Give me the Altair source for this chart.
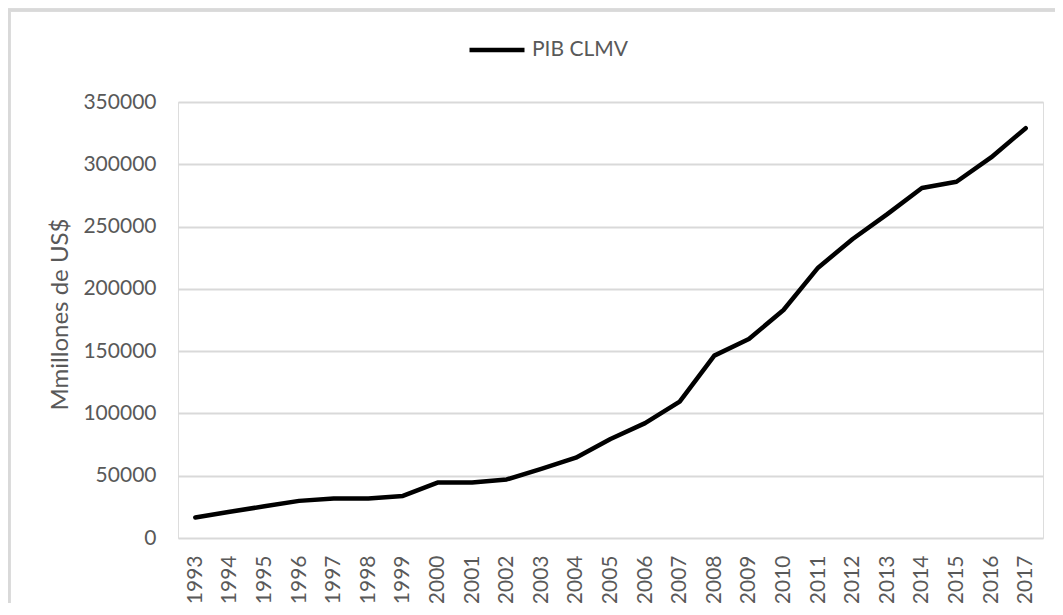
import altair as alt
import pandas as pd

years = [str(y) for y in range(1993, 2018)]
pib = [16500, 21000, 25500, 29800, 31800, 31800, 33800, 44500, 44500, 47000,
       55500, 64500, 79500, 92200, 109500, 146400, 159800, 183000, 217000,
       240000, 260000, 281000, 286000, 305500, 329000]
series = ["PIB CLMV"] * len(years)
y_ticks = [0, 50000, 100000, 150000, 200000, 250000, 300000, 350000]

df = pd.DataFrame({"year": years, "value": pib, "serie": series})

FONT = "Lato"
GREY = "#595959"
GRID = "#d9d9d9"

line = alt.Chart(df).mark_line(strokeWidth=4.5, strokeCap="round", strokeJoin="round").encode(
    x=alt.X("year:O", scale=alt.Scale(type="point", padding=0.5),
            axis=alt.Axis(title=None, labelAngle=-90, labelAlign="right", labelBaseline="middle",
                          labelPadding=17, ticks=False, domain=False, labelFont=FONT,
                          labelFontSize=21, labelColor=GREY)),
    y=alt.Y("value:Q", scale=alt.Scale(domain=[0, 350000], nice=False),
            axis=alt.Axis(title="Mmillones de US$", values=y_ticks, format="d", ticks=False,
                          domain=False, grid=True, gridColor=GRID, gridWidth=2,
                          labelFont=FONT, labelFontSize=21, labelColor=GREY, labelPadding=22,
                          titleFont=FONT, titleFontSize=24, titleColor=GREY,
                          titleFontWeight="normal", titleX=-118, titleY=212,
                          titleAngle=270, titleAlign="center", titleBaseline="middle")),
    color=alt.Color("serie:N", scale=alt.Scale(range=["#000000"]),
                    legend=alt.Legend(title=None, orient="none", legendX=289, legendY=-82,
                                      symbolType="stroke", symbolSize=3025, symbolStrokeWidth=4.5,
                                      labelFont=FONT, labelFontSize=21, labelColor=GREY,
                                      labelOffset=5, symbolStrokeColor="#000000")),
)

border_left = alt.Chart(df).mark_rule(color=GRID, strokeWidth=2.5).encode(
    x=alt.value(-169), y=alt.value(-92), y2=alt.value(560))
border_top = alt.Chart(df).mark_rule(color=GRID, strokeWidth=2.5).encode(
    x=alt.value(-170), x2=alt.value(900), y=alt.value(-92))

chart = alt.layer(border_left, border_top, line).properties(
    width=865, height=436,
    autosize=alt.AutoSizeParams(type="none"),
    padding={"left": 170, "top": 94, "right": 12, "bottom": 65},
).configure_view(stroke=None).configure(background="white")

chart.save("out.html", embed_options={"renderer": "svg", "actions": False})
